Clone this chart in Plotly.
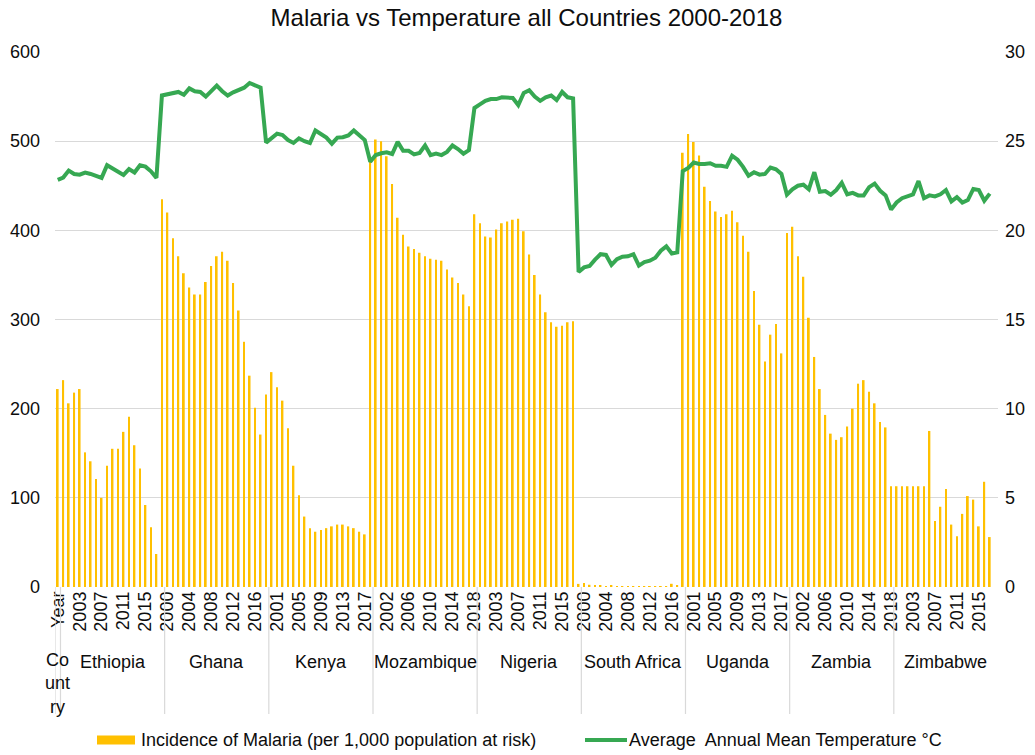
import plotly.graph_objects as go

# ---------------- data ----------------
countries = ["Ethiopia", "Ghana", "Kenya", "Mozambique", "Nigeria",
             "South Africa", "Uganda", "Zambia", "Zimbabwe"]
years = list(range(2000, 2019))
header_label = "Year"
header_group = "Co<br>unt<br>ry"

# Incidence of malaria (per 1,000 population at risk), 19 values per country
malaria_ethiopia = [222, 232, 206, 218, 222, 151, 141, 121, 100, 136, 155, 155, 174, 191, 159, 133, 92, 67, 37]
malaria_ghana = [435, 420, 391, 371, 352, 336, 328, 328, 342, 360, 371, 376, 366, 341, 310, 275, 237, 201, 171]
malaria_kenya = [216, 241, 224, 209, 178, 136, 103, 79, 66, 62, 64, 66, 68, 70, 70, 68, 66, 62, 59]
malaria_mozambique = [478, 502, 500, 483, 452, 414, 395, 382, 379, 375, 371, 368, 367, 366, 356, 347, 341, 328, 315]
malaria_nigeria = [418, 408, 393, 392, 401, 408, 410, 412, 413, 399, 373, 350, 328, 308, 297, 292, 293, 297, 298]
malaria_south_africa = [3.5, 4.5, 2.5, 2, 1.5, 1, 1.5, 1, 1, 1, 1, 1, 1, 1, 1, 0.5, 0.5, 3.6, 1.6]
malaria_uganda = [487, 508, 499, 484, 449, 433, 421, 415, 418, 422, 409, 394, 376, 332, 294, 253, 283, 295, 262]
malaria_zambia = [397, 404, 371, 348, 302, 258, 222, 193, 172, 165, 168, 180, 200, 228, 232, 219, 206, 185, 179]
malaria_zimbabwe = [113, 113, 113, 113, 113, 113, 113, 175, 74, 90, 110, 70, 57, 82, 102, 98, 68, 118, 56]

# Average annual mean temperature (°C)
temp_ethiopia = [22.83, 22.96, 23.35, 23.16, 23.12, 23.24, 23.16, 23.05, 22.94, 23.65, 23.46, 23.31, 23.11, 23.43, 23.24, 23.65, 23.57, 23.31, 22.94]
temp_ghana = [27.56, 27.64, 27.7, 27.76, 27.6, 27.96, 27.8, 27.76, 27.5, 27.8, 28.12, 27.8, 27.56, 27.74, 27.86, 28.0, 28.26, 28.12, 28.0]
temp_kenya = [24.92, 25.16, 25.42, 25.34, 25.06, 24.9, 25.16, 25.0, 24.9, 25.6, 25.42, 25.2, 24.86, 25.2, 25.22, 25.32, 25.6, 25.36, 25.06]
temp_mozambique = [23.84, 24.22, 24.32, 24.37, 24.28, 24.96, 24.46, 24.46, 24.26, 24.34, 24.76, 24.22, 24.3, 24.22, 24.4, 24.76, 24.56, 24.3, 24.5]
temp_nigeria = [26.86, 27.06, 27.26, 27.36, 27.36, 27.46, 27.46, 27.42, 27.02, 27.7, 27.86, 27.5, 27.26, 27.46, 27.56, 27.3, 27.76, 27.46, 27.4]
temp_south_africa = [17.66, 17.92, 18.0, 18.36, 18.66, 18.62, 18.06, 18.38, 18.52, 18.54, 18.66, 18.02, 18.22, 18.3, 18.46, 18.86, 19.1, 18.7, 18.76]
temp_uganda = [23.32, 23.5, 23.8, 23.72, 23.72, 23.76, 23.62, 23.62, 23.56, 24.18, 23.96, 23.56, 23.06, 23.26, 23.12, 23.16, 23.52, 23.42, 23.16]
temp_zambia = [22.0, 22.3, 22.5, 22.56, 22.3, 23.26, 22.16, 22.2, 22.0, 22.26, 22.66, 22.02, 22.1, 21.96, 21.96, 22.42, 22.62, 22.22, 21.96]
temp_zimbabwe = [21.16, 21.56, 21.8, 21.92, 22.02, 22.76, 21.8, 21.96, 21.9, 22.02, 22.26, 21.62, 21.86, 21.56, 21.7, 22.32, 22.26, 21.66, 22.06]

malaria_series = [malaria_ethiopia, malaria_ghana, malaria_kenya, malaria_mozambique, malaria_nigeria,
                  malaria_south_africa, malaria_uganda, malaria_zambia, malaria_zimbabwe]
temp_series = [temp_ethiopia, temp_ghana, temp_kenya, temp_mozambique, temp_nigeria,
               temp_south_africa, temp_uganda, temp_zambia, temp_zimbabwe]

bar_name = "Incidence of Malaria (per 1,000 population at risk)"
line_name = "Average\u00a0 Annual Mean Temperature °C"

# ---------------- category axis ----------------
# category 0 is the "Country / Year" header, then 9 x 19 country-years.
categories = [header_label] + [str(y) for c in countries for y in years]
n_years = len(years)
# In the source chart the values start at the header category (one-slot shift).
x_vals = []
malaria = []
temps = []
for ci in range(len(countries)):
    for yi in range(n_years):
        x_vals.append(ci * n_years + yi)
        malaria.append(malaria_series[ci][yi])
        temps.append(temp_series[ci][yi])

tick_idx = list(range(0, len(categories), 4))
tick_text = [categories[i] for i in tick_idx]

FONT = "Liberation Sans, Arial, sans-serif"
TXT = "#0d0d0d"
GRID = "#d9d9d9"
BAR_C = "#FFC000"
LINE_C = "#36A852"
FS = 18

W, H = 1035, 755
L, T = 55, 52
R = W - 998
B = H - 587
PW, PH = W - L - R, H - T - B


def px_x(p):
    return (p - L) / PW


def px_y(p):
    return (H - B - p) / PH


fig = go.Figure()
fig.add_trace(go.Bar(
    x=x_vals, y=malaria, name=bar_name, showlegend=False,
    marker=dict(color=BAR_C, line=dict(width=0)),
))
fig.add_trace(go.Scatter(
    x=x_vals, y=temps, yaxis="y2", mode="lines", name=line_name, showlegend=False,
    line=dict(color=LINE_C, width=4),
))

# group separators and labels
sep_bottom = px_y(714)
shapes = []
for xb in [-0.5, 0.5] + [0.5 + n_years * (ci + 1) for ci in range(len(countries) - 1)]:
    shapes.append(dict(type="line", xref="x", yref="paper", x0=xb, x1=xb, y0=0, y1=sep_bottom,
                       line=dict(color=GRID, width=1.2)))

annotations = []
for ci, c in enumerate(countries):
    center = 1 + ci * n_years + (n_years - 1) / 2
    annotations.append(dict(x=center, y=px_y(662), xref="x", yref="paper", text=c, showarrow=False,
                            font=dict(family=FONT, size=FS, color=TXT), yanchor="middle"))
annotations.append(dict(x=0, y=px_y(683), xref="x", yref="paper", text=header_group, showarrow=False,
                        font=dict(family=FONT, size=FS, color=TXT), yanchor="middle", align="center"))

# legend (drawn to match the wide swatches of the original)
leg_y = 740
shapes.append(dict(type="rect", xref="paper", yref="paper", x0=px_x(97), x1=px_x(135),
                   y0=px_y(leg_y + 4.5), y1=px_y(leg_y - 4.5), fillcolor=BAR_C, line=dict(width=0)))
annotations.append(dict(x=px_x(139), y=px_y(leg_y), xref="paper", yref="paper", text=bar_name,
                        showarrow=False, xanchor="left", yanchor="middle",
                        font=dict(family=FONT, size=FS, color=TXT)))
shapes.append(dict(type="line", xref="paper", yref="paper", x0=px_x(585), x1=px_x(627),
                   y0=px_y(leg_y), y1=px_y(leg_y), line=dict(color=LINE_C, width=4)))
annotations.append(dict(x=px_x(627), y=px_y(leg_y), xref="paper", yref="paper", text=line_name,
                        showarrow=False, xanchor="left", yanchor="middle",
                        font=dict(family=FONT, size=FS, color=TXT)))

fig.update_layout(
    width=W, height=H,
    margin=dict(l=L, r=R, t=T, b=B, autoexpand=False),
    paper_bgcolor="white", plot_bgcolor="white",
    font=dict(family=FONT, size=FS, color=TXT),
    title=dict(text="Malaria vs Temperature all Countries 2000-2018", x=0.5, xref="paper",
               xanchor="center", y=1 - 18 / H, yanchor="middle",
               font=dict(family=FONT, size=24, color=TXT)),
    bargap=0.68,
    showlegend=False,
    xaxis=dict(range=[-0.5, len(categories) - 0.5], tickmode="array", tickvals=tick_idx,
               ticktext=tick_text, tickangle=-90, showgrid=False, zeroline=False,
               showline=False, ticks="", automargin=False,
               tickfont=dict(family=FONT, size=FS, color=TXT)),
    yaxis=dict(range=[0, 600], dtick=100, showgrid=True, gridcolor=GRID, gridwidth=1.3,
               zeroline=False, showline=False, ticks="", ticklabelstandoff=14, automargin=False,
               tickfont=dict(family=FONT, size=FS, color=TXT)),
    yaxis2=dict(range=[0, 30], dtick=5, overlaying="y", side="right", showgrid=False,
                zeroline=False, showline=False, ticks="", ticklabelstandoff=6, automargin=False,
                tickfont=dict(family=FONT, size=FS, color=TXT)),
    shapes=shapes,
    annotations=annotations,
)

# remove the browser's default 8px body margin so the figure fills the 1035x755 window exactly
fig.write_html("out.html", config={"displayModeBar": False},
               post_script="document.body.style.margin='0';")
